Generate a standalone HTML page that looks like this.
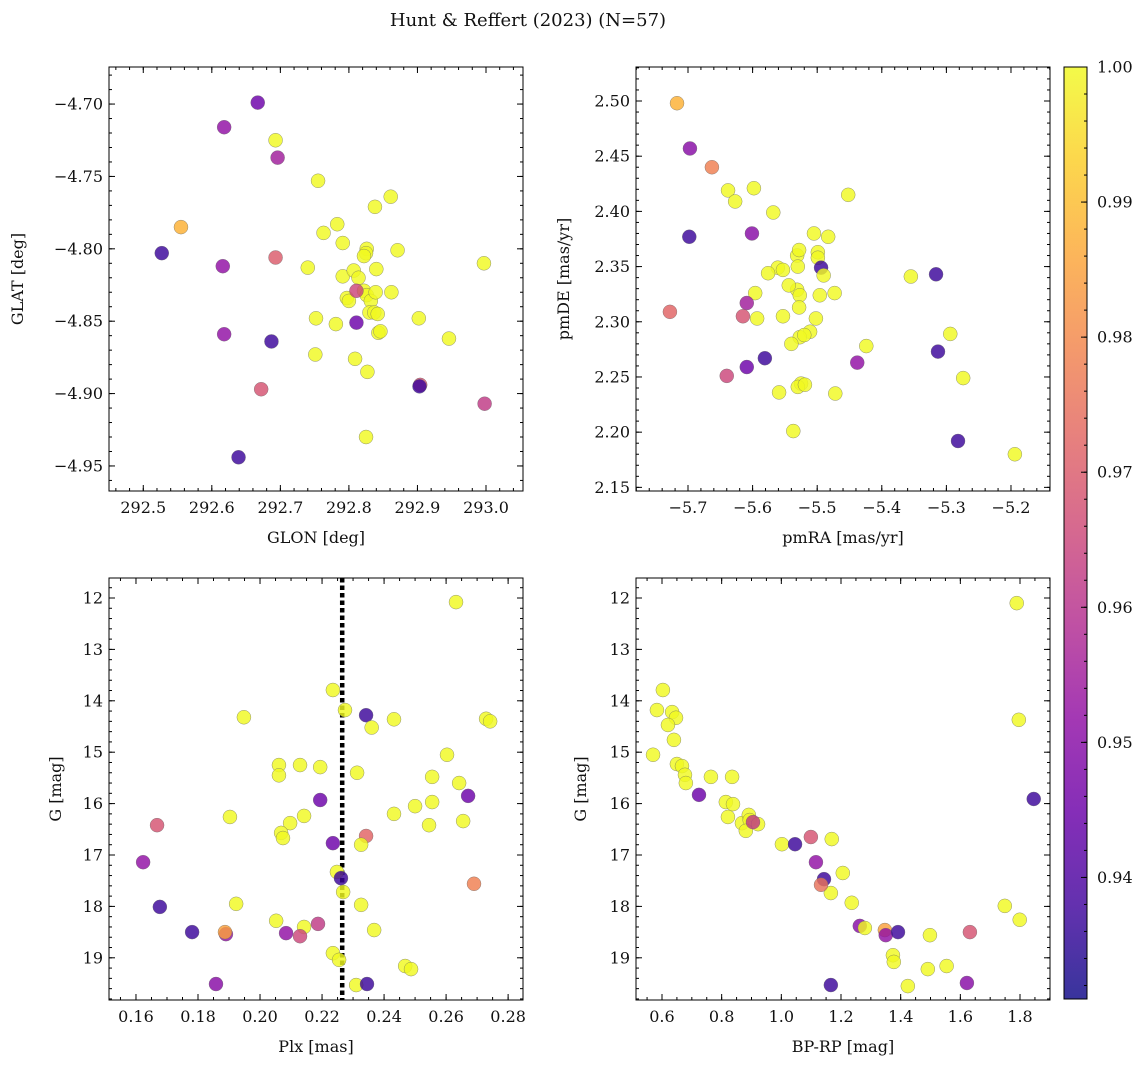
<!DOCTYPE html>
<html><head><meta charset="utf-8"><style>
body{margin:0;background:#fff;}
svg text{font-family:"DejaVu Serif","Liberation Serif",serif;fill:#111;}
</style></head><body>
<svg id="fig" width="1148" height="1067" viewBox="0 0 1148 1067" xmlns="http://www.w3.org/2000/svg">
<text x="528" y="26" text-anchor="middle" font-size="18">Hunt &amp; Reffert (2023) (N=57)</text>
</svg>
<script>
// ---- data: panel 1 (GLON vs GLAT) ----
const glon1=[292.667,292.618,292.693,292.696,292.755,292.555,292.527,292.616,292.693,292.783,292.763,292.791,292.826,292.825,292.861,292.838,292.871,292.740,292.791,292.807,292.814,292.822,292.822,292.840,292.797,292.800,292.826,292.832,292.839,292.862,292.830,292.837,292.842,292.843,292.846,292.752,292.781,292.811,292.811,292.618,292.687,292.751,292.809,292.827,292.902,292.946,292.997,292.672,292.904,292.903,292.998,292.639,292.825];
const glat1=[-4.699,-4.716,-4.725,-4.737,-4.753,-4.785,-4.803,-4.812,-4.806,-4.783,-4.789,-4.796,-4.800,-4.803,-4.764,-4.771,-4.801,-4.813,-4.819,-4.815,-4.820,-4.829,-4.805,-4.814,-4.834,-4.836,-4.832,-4.836,-4.830,-4.830,-4.844,-4.844,-4.845,-4.858,-4.857,-4.848,-4.852,-4.829,-4.851,-4.859,-4.864,-4.873,-4.876,-4.885,-4.848,-4.862,-4.810,-4.897,-4.894,-4.895,-4.907,-4.944,-4.930];
const prob1=[0.945,0.952,1,0.955,1,0.988,0.937,0.952,0.970,1,1,1,1,1,1,1,1,1,1,1,1,1,1,1,1,1,1,1,1,1,1,1,1,1,1,1,1,0.965,0.945,0.952,0.937,1,1,1,1,1,1,0.968,0.968,0.937,0.962,0.937,1];
// ---- panel 2 (pmRA vs pmDE) ----
const pmra2=[-5.717,-5.697,-5.663,-5.698,-5.728,-5.638,-5.598,-5.627,-5.568,-5.452,-5.601,-5.561,-5.531,-5.528,-5.505,-5.483,-5.499,-5.499,-5.494,-5.530,-5.553,-5.576,-5.490,-5.496,-5.473,-5.531,-5.527,-5.596,-5.544,-5.528,-5.553,-5.593,-5.502,-5.511,-5.527,-5.520,-5.540,-5.609,-5.615,-5.581,-5.609,-5.640,-5.559,-5.525,-5.530,-5.519,-5.472,-5.424,-5.438,-5.355,-5.316,-5.313,-5.294,-5.274,-5.282,-5.537,-5.194];
const pmde2=[2.498,2.457,2.440,2.377,2.309,2.419,2.421,2.409,2.399,2.415,2.380,2.349,2.360,2.365,2.380,2.377,2.363,2.358,2.349,2.350,2.347,2.344,2.342,2.324,2.326,2.329,2.324,2.326,2.333,2.313,2.305,2.303,2.303,2.291,2.286,2.288,2.280,2.317,2.305,2.267,2.259,2.251,2.236,2.244,2.241,2.243,2.235,2.278,2.263,2.341,2.343,2.273,2.289,2.249,2.192,2.201,2.180];
const prob2=[0.988,0.950,0.978,0.937,0.972,1,1,1,1,1,0.950,1,1,1,1,1,1,1,0.937,1,1,1,1,1,1,1,1,1,1,1,1,1,1,1,1,1,1,0.955,0.968,0.937,0.945,0.965,1,1,1,1,1,1,0.952,1,0.937,0.937,1,1,0.937,1,1];
// ---- panel 3 (Plx vs G) ----
const plx3=[0.2632,0.2235,0.2274,0.2342,0.1948,0.2432,0.2729,0.2742,0.2360,0.2194,0.2061,0.2061,0.2129,0.2313,0.2603,0.2555,0.2642,0.2671,0.2194,0.2500,0.2555,0.1903,0.2097,0.2142,0.2068,0.2074,0.2432,0.2545,0.2655,0.1668,0.2342,0.2326,0.2235,0.1623,0.2248,0.2261,0.2268,0.2690,0.1923,0.2326,0.1677,0.2052,0.2187,0.2142,0.1890,0.2129,0.2084,0.2368,0.1781,0.1887,0.2235,0.2255,0.2468,0.2487,0.1858,0.2310,0.2345];
const g3=[12.08,13.79,14.18,14.28,14.32,14.36,14.35,14.40,14.52,15.29,15.25,15.45,15.25,15.40,15.05,15.48,15.60,15.85,15.93,16.05,15.97,16.26,16.38,16.24,16.57,16.67,16.20,16.42,16.34,16.42,16.63,16.80,16.77,17.14,17.33,17.45,17.72,17.56,17.95,17.97,18.01,18.28,18.34,18.40,18.54,18.58,18.52,18.46,18.50,18.50,18.91,19.04,19.16,19.22,19.51,19.53,19.51];
const prob3=[1,1,1,0.937,1,1,1,1,1,1,1,1,1,1,1,1,1,0.945,0.945,1,1,1,1,1,1,1,1,1,1,0.968,0.972,1,0.945,0.952,1,0.937,1,0.978,1,1,0.937,1,0.962,1,0.952,0.965,0.952,1,0.937,0.985,1,1,1,1,0.950,1,0.937];
const plxLine=0.2265;
// ---- panel 4 (BP-RP vs G) ----
const bprp4=[0.603,0.583,0.634,0.647,0.620,0.640,0.570,0.650,0.667,0.677,0.680,0.764,0.835,1.796,1.846,1.789,0.724,0.814,0.838,0.821,0.868,0.891,0.894,0.881,0.922,0.905,1.002,1.046,1.099,1.169,1.116,1.206,1.143,1.166,1.133,1.236,1.749,1.799,1.263,1.280,1.347,1.350,1.391,1.498,1.632,1.374,1.377,1.491,1.554,1.424,1.622,1.166];
const g4=[13.79,14.18,14.22,14.33,14.47,14.76,15.05,15.23,15.27,15.44,15.60,15.48,15.48,14.37,15.91,12.10,15.83,15.97,16.01,16.26,16.38,16.22,16.32,16.53,16.40,16.36,16.79,16.79,16.65,16.69,17.14,17.35,17.47,17.74,17.58,17.93,17.99,18.26,18.38,18.42,18.46,18.56,18.50,18.56,18.50,18.95,19.08,19.22,19.16,19.55,19.49,19.53];
const prob4=[1,1,1,1,1,1,1,1,1,1,1,1,1,1,0.937,1,0.945,1,1,1,1,1,1,1,1,0.962,1,0.937,0.968,1,0.952,1,0.937,1,0.975,1,1,1,0.950,1,0.985,0.952,0.937,1,0.968,1,1,1,1,1,0.950,0.937];
const cbTicks=[0.94,0.95,0.96,0.97,0.98,0.99,1.00];

const NS='http://www.w3.org/2000/svg';
const svg=document.getElementById('fig');
function mk(tag,attrs,parent){const e=document.createElementNS(NS,tag);for(const k in attrs)e.setAttribute(k,attrs[k]);(parent||svg).appendChild(e);return e;}
const stops=['#0d0887','#41049d','#6a00a8','#8f0da4','#b12a90','#cc4778','#e16462','#f2844b','#fca636','#fcce25','#f0f921'];
function hx(c){return [1,3,5].map(i=>parseInt(c.substr(i,2),16));}
const VMIN=0.931,VMAX=1.0;
function cmap(v){let t=(v-VMIN)/(VMAX-VMIN);t=Math.max(0,Math.min(1,t));const s=t*10,i=Math.min(9,Math.floor(s)),f=s-i;const a=hx(stops[i]),b=hx(stops[i+1]);return 'rgb('+a.map((x,j)=>Math.round(x+(b[j]-x)*f)).join(',')+')';}
function range(a,b,st){const r=[];for(let v=a;v<=b+st*1e-6;v+=st)r.push(+v.toFixed(6));return r;}

function panel(o){
  const g=mk('g',{});
  
  
  const sx=v=>o.x0+(v-o.xmin)/(o.xmax-o.xmin)*(o.x1-o.x0);
  const sy=v=>o.inv? o.y0+(v-o.ymin)/(o.ymax-o.ymin)*(o.y1-o.y0) : o.y1-(v-o.ymin)/(o.ymax-o.ymin)*(o.y1-o.y0);
  const tg=mk('g',{stroke:'#000','stroke-width':1},g);
  o.xminor.forEach(v=>{if(v<o.xmin||v>o.xmax)return;const x=sx(v);mk('line',{x1:x,x2:x,y1:o.y1,y2:o.y1-3},tg);mk('line',{x1:x,x2:x,y1:o.y0,y2:o.y0+3},tg);});
  o.yminor.forEach(v=>{const lo=Math.min(o.ymin,o.ymax),hi=Math.max(o.ymin,o.ymax);if(v<lo||v>hi)return;const y=sy(v);mk('line',{x1:o.x0,x2:o.x0+3,y1:y,y2:y},tg);mk('line',{x1:o.x1,x2:o.x1-3,y1:y,y2:y},tg);});
  o.xticks.forEach((v,i)=>{const x=sx(v);mk('line',{x1:x,x2:x,y1:o.y1,y2:o.y1-6},tg);mk('line',{x1:x,x2:x,y1:o.y0,y2:o.y0+6},tg);
    const t=mk('text',{x:x,y:o.y1+22,'text-anchor':'middle','font-size':16},g);t.textContent=o.xlab[i];
    
    });
  o.yticks.forEach((v,i)=>{const y=sy(v);mk('line',{x1:o.x0,x2:o.x0+6,y1:y,y2:y},tg);mk('line',{x1:o.x1,x2:o.x1-6,y1:y,y2:y},tg);
    const t=mk('text',{x:o.x0-6,y:y+5.5,'text-anchor':'end','font-size':16},g);t.textContent=o.ylab[i];
    
    });
  if(o.vline!==undefined){const x=sx(o.vline);const l=mk('line',{x1:x,x2:x,y1:o.y0,y2:o.y1,stroke:'#000','stroke-width':4.5,'stroke-dasharray':'4.5,3'},g);
    
    }
  const pg=mk('g',{},g);
  o.xs.forEach((xv,i)=>{const c=mk('circle',{cx:sx(xv),cy:sy(o.ys[i]),r:7,fill:cmap(o.c[i]),'fill-opacity':0.82,stroke:'#666','stroke-width':0.5,'stroke-opacity':0.7},pg);
    
    });
  const fr=mk('rect',{x:o.x0,y:o.y0,width:o.x1-o.x0,height:o.y1-o.y0,fill:'none',stroke:'#000','stroke-width':1},g);
  
  
  const xl=mk('text',{x:(o.x0+o.x1)/2,y:o.y1+52,'text-anchor':'middle','font-size':16},g);xl.textContent=o.xtitle;
  
  
  const yx=o.ytx,yy=(o.y0+o.y1)/2;
  const yl=mk('text',{x:yx,y:yy,'text-anchor':'middle','font-size':16,transform:'rotate(-90 '+yx+' '+yy+')'},g);yl.textContent=o.ytitle;
  
  
}
const mfmt=v=>(v<0?'\u2212':'')+Math.abs(v).toFixed(2);
panel({name:'glon-glat-panel',x0:109,x1:523,y0:67,y1:491,xmin:292.450,xmax:293.054,ymin:-4.9673,ymax:-4.6744,
  xticks:range(292.5,293.0,0.1),xlab:range(292.5,293.0,0.1).map(v=>v.toFixed(1)),xminor:range(292.46,293.04,0.02),
  yticks:range(-4.95,-4.70,0.05),ylab:range(-4.95,-4.70,0.05).map(mfmt),yminor:range(-4.96,-4.68,0.01),
  xs:glon1,ys:glat1,c:prob1,xtitle:'GLON [deg]',ytitle:'GLAT [deg]',ytx:23});
panel({name:'pm-panel',x0:636,x1:1050,y0:67,y1:491,xmin:-5.7805,xmax:-5.1396,ymin:2.1467,ymax:2.5308,
  xticks:range(-5.7,-5.2,0.1),xlab:range(-5.7,-5.2,0.1).map(v=>(v<0?'\u2212':'')+Math.abs(v).toFixed(1)),xminor:range(-5.78,-5.14,0.02),
  yticks:range(2.15,2.50,0.05),ylab:range(2.15,2.50,0.05).map(v=>v.toFixed(2)),yminor:range(2.15,2.53,0.01),
  xs:pmra2,ys:pmde2,c:prob2,xtitle:'pmRA [mas/yr]',ytitle:'pmDE [mas/yr]',ytx:569});
const gT=range(12,19,1);
panel({name:'plx-g-panel',x0:109,x1:523,y0:578,y1:1000,xmin:0.1513,xmax:0.2848,ymin:11.611,ymax:19.821,inv:true,
  xticks:range(0.16,0.28,0.02),xlab:range(0.16,0.28,0.02).map(v=>v.toFixed(2)),xminor:range(0.155,0.285,0.005),
  yticks:gT,ylab:gT.map(v=>String(v)),yminor:range(11.8,19.8,0.2),
  xs:plx3,ys:g3,c:prob3,vline:plxLine,xtitle:'Plx [mas]',ytitle:'G [mag]',ytx:61});
panel({name:'cmd-panel',x0:636,x1:1050,y0:578,y1:1000,xmin:0.5129,xmax:1.9005,ymin:11.611,ymax:19.821,inv:true,
  xticks:range(0.6,1.8,0.2),xlab:range(0.6,1.8,0.2).map(v=>v.toFixed(1)),xminor:range(0.55,1.9,0.05),
  yticks:gT,ylab:gT.map(v=>String(v)),yminor:range(11.8,19.8,0.2),
  xs:bprp4,ys:g4,c:prob4,xtitle:'BP-RP [mag]',ytitle:'G [mag]',ytx:586});

const cb=mk('g',{});


const defs=mk('defs',{});
const lg=mk('linearGradient',{id:'cbg',x1:0,y1:1,x2:0,y2:0},defs);
stops.forEach((s,i)=>mk('stop',{offset:i/10,'stop-color':s,'stop-opacity':0.82},lg));
const CB={x:1064,w:23,y0:67,y1:999};
mk('rect',{x:CB.x,y:CB.y0,width:CB.w,height:CB.y1-CB.y0,fill:'url(#cbg)',stroke:'#000','stroke-width':1},cb);
const cy=v=>CB.y1-(v-VMIN)/(VMAX-VMIN)*(CB.y1-CB.y0);
range(0.932,1.0,0.002).forEach(v=>{const y=cy(v);mk('line',{x1:CB.x+CB.w,x2:CB.x+CB.w-3,y1:y,y2:y,stroke:'#000'},cb);});
cbTicks.forEach(v=>{const y=cy(v);mk('line',{x1:CB.x+CB.w,x2:CB.x+CB.w-6,y1:y,y2:y,stroke:'#000'},cb);
  const t=mk('text',{x:CB.x+CB.w+10,y:y+5.5,'font-size':16},cb);t.textContent=v.toFixed(2);
  
  });
</script>
</body></html>
